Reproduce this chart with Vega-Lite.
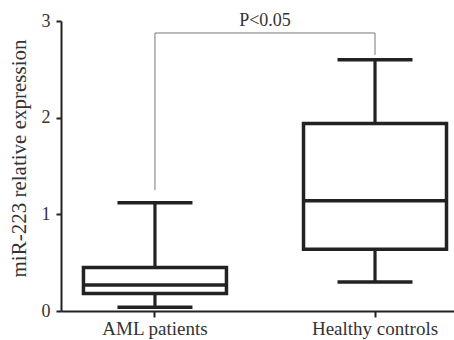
{
  "$schema": "https://vega.github.io/schema/vega-lite/v6.json",
  "width": 393,
  "height": 290,
  "autosize": "none",
  "padding": {"left": 61, "top": 21, "right": 0, "bottom": 29},
  "config": {
    "view": {"stroke": null},
    "font": "Liberation Serif",
    "axis": {"grid": false, "domainColor": "#222", "domainWidth": 2, "tickColor": "#222", "tickWidth": 2, "labelFont": "Liberation Serif", "titleFont": "Liberation Serif", "labelColor": "#333", "titleColor": "#333", "labelFontSize": 18, "titleFontSize": 18, "titleFontWeight": "normal"}
  },
  "datasets": {
    "box": [
      {"group": "AML patients", "min": 0.04, "q1": 0.18, "median": 0.27, "q3": 0.45, "max": 1.12},
      {"group": "Healthy controls", "min": 0.30, "q1": 0.64, "median": 1.14, "q3": 1.94, "max": 2.60}
    ],
    "bracket": [
      {"group": "AML patients", "low": 1.25, "high": 2.876},
      {"group": "Healthy controls", "low": 2.65, "high": 2.876}
    ],
    "label": [
      {"from": "AML patients", "to": "Healthy controls", "y": 2.876, "text": "P<0.05"}
    ]
  },
  "encoding": {
    "x": {"field": "group", "type": "nominal", "sort": ["AML patients", "Healthy controls"],
      "scale": {"paddingInner": 0.34, "paddingOuter": 0.063, "align": 0.77},
      "axis": {"title": null, "labelAngle": 0, "tickSize": 6, "labelPadding": 2, "labelFontSize": 19}}
  },
  "layer": [
    {
      "data": {"name": "bracket"},
      "mark": {"type": "rule", "color": "#777", "strokeWidth": 1},
      "encoding": {
        "y": {"field": "low", "type": "quantitative", "scale": {"domain": [0, 3], "nice": false},
          "axis": {"title": "miR-223 relative expression", "values": [0, 1, 2, 3], "format": "d", "tickSize": 5, "labelPadding": 6, "titlePadding": 12, "titleFontSize": 21, "titleY": 137}},
        "y2": {"field": "high"}
      }
    },
    {
      "data": {"name": "label"},
      "mark": {"type": "rule", "color": "#777", "strokeWidth": 1},
      "encoding": {
        "x": {"field": "from", "type": "nominal", "sort": ["AML patients", "Healthy controls"]},
        "x2": {"field": "to"},
        "y": {"field": "y", "type": "quantitative"}
      }
    },
    {
      "data": {"name": "box"},
      "mark": {"type": "rule", "color": "#222", "strokeWidth": 3.2},
      "encoding": {"y": {"field": "min", "type": "quantitative"}, "y2": {"field": "max"}}
    },
    {
      "data": {"name": "box"},
      "mark": {"type": "bar", "fill": "white", "stroke": "#222", "strokeWidth": 3.5, "size": 143, "opacity": 1},
      "encoding": {"y": {"field": "q1", "type": "quantitative"}, "y2": {"field": "q3"}}
    },
    {
      "data": {"name": "box"},
      "mark": {"type": "tick", "color": "#222", "opacity": 1, "thickness": 3.5, "size": 145, "orient": "horizontal"},
      "encoding": {"y": {"field": "median", "type": "quantitative"}}
    },
    {
      "data": {"name": "box"},
      "mark": {"type": "tick", "color": "#222", "opacity": 1, "thickness": 3.5, "size": 75, "orient": "horizontal"},
      "encoding": {"y": {"field": "min", "type": "quantitative"}}
    },
    {
      "data": {"name": "box"},
      "mark": {"type": "tick", "color": "#222", "opacity": 1, "thickness": 3.5, "size": 75, "orient": "horizontal"},
      "encoding": {"y": {"field": "max", "type": "quantitative"}}
    },
    {
      "data": {"name": "label"},
      "mark": {"type": "text", "fontSize": 18, "color": "#333", "baseline": "bottom", "dy": -3, "dx": 110, "align": "center"},
      "encoding": {
        "x": {"field": "from", "type": "nominal", "sort": ["AML patients", "Healthy controls"]},
        "y": {"field": "y", "type": "quantitative"},
        "text": {"field": "text"}
      }
    }
  ]
}
